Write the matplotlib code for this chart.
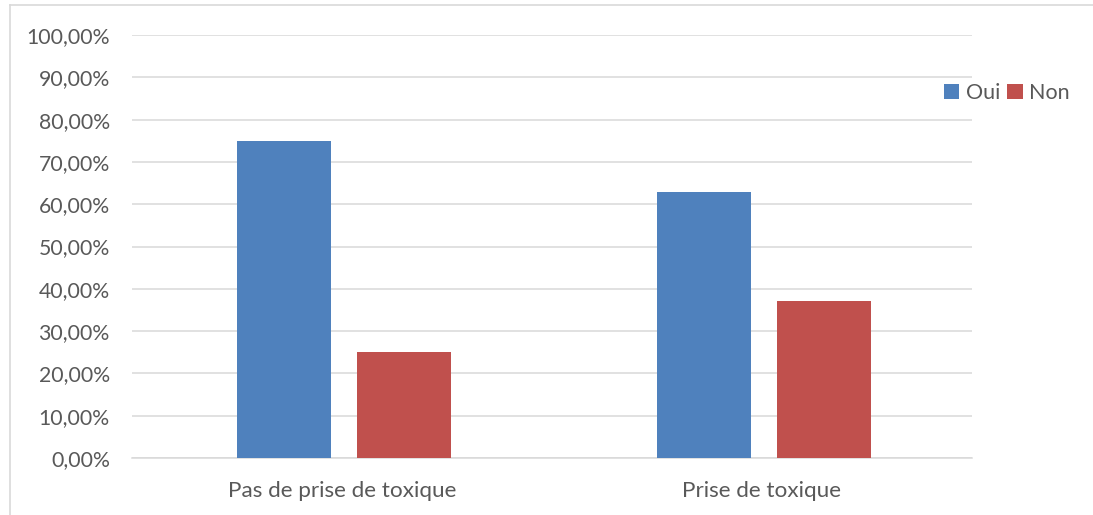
import matplotlib
matplotlib.use("Agg")
import matplotlib.pyplot as plt
from matplotlib.lines import Line2D
from matplotlib.ticker import FuncFormatter

categories = ["Pas de prise de toxique", "Prise de toxique"]
oui = [0.75, 0.63]
non = [0.25, 0.37]
series_names = ["Oui", "Non"]
colors = ["#4F81BD", "#C0504D"]
text_color = "#595959"
grid_color = "#D9D9D9"

plt.rcParams["font.family"] = ["Lato", "DejaVu Sans"]

fig = plt.figure(figsize=(10.93, 5.15), dpi=100)
W, H = 1093, 515
ax = fig.add_axes([132 / W, 1 - 458 / H, (972 - 132) / W, (458 - 35) / H])

x = list(range(len(categories)))
width = 0.224
offset = 0.143
shift = 0.004
ax.bar([i - offset + shift for i in x], oui, width, color=colors[0], label=series_names[0], zorder=3)
ax.bar([i + offset + shift for i in x], non, width, color=colors[1], label=series_names[1], zorder=3)

ax.set_xlim(-0.5, len(categories) - 0.5)
ax.set_ylim(0, 1.0)
ax.set_yticks([i / 10 for i in range(11)])
ax.yaxis.set_major_formatter(FuncFormatter(lambda v, p: f"{v * 100:.2f}%".replace(".", ",")))
ax.set_xticks(x)
ax.set_xticklabels(categories)

ax.grid(axis="y", color=grid_color, linewidth=1.1, zorder=0)
for s in ["left", "right", "top"]:
    ax.spines[s].set_visible(False)
ax.spines["bottom"].set_color(grid_color)
ax.spines["bottom"].set_linewidth(1.1)
ax.tick_params(axis="both", length=0, colors=text_color)
ax.tick_params(axis="y", pad=16, labelsize=15.3)
ax.tick_params(axis="x", pad=16.5, labelsize=16.2)

fig.legend(loc="center left", bbox_to_anchor=(944 / W, 1 - 93 / H), ncol=2,
           frameon=False, fontsize=15.5, handlelength=0.7, handleheight=0.7,
           handletextpad=0.3, columnspacing=0.35, labelcolor=text_color,
           borderpad=0, borderaxespad=0)

# outer chart frame
fig.add_artist(Line2D([10 / W, 10 / W], [0, 1 - 5 / H], color=grid_color, linewidth=1.2))
fig.add_artist(Line2D([10 / W, 1], [1 - 5 / H, 1 - 5 / H], color=grid_color, linewidth=1.2))

fig.savefig("out.png", dpi=100, facecolor="white")
